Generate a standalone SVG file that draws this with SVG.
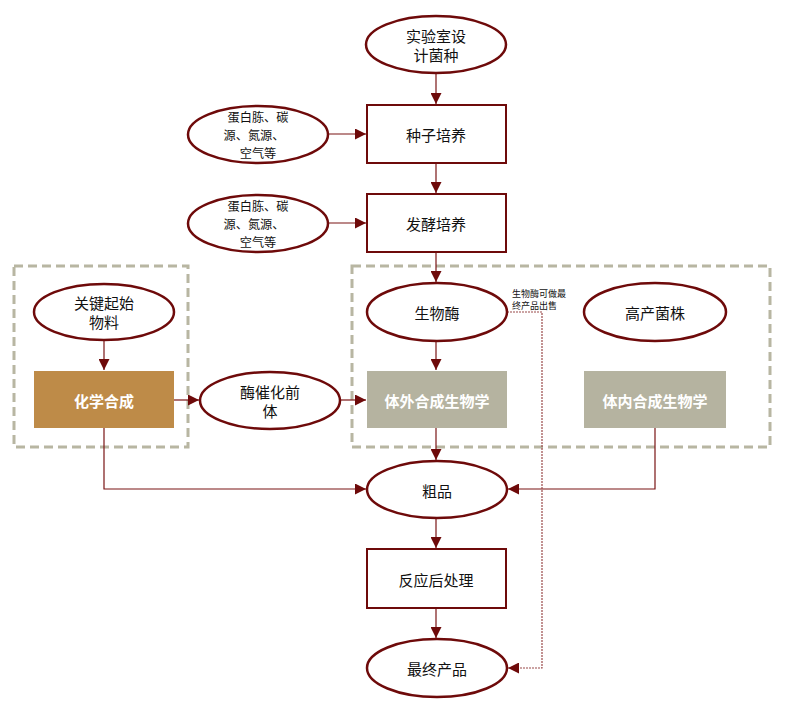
<svg xmlns="http://www.w3.org/2000/svg" width="786" height="714" viewBox="0 0 786 714">
<style>
text{font-family:"Noto Sans CJK SC","Noto Sans",sans-serif;fill:#111;text-anchor:middle;dominant-baseline:central}
.t{font-size:15px}
.m{font-size:12.2px}
.w{font-size:15px;font-weight:bold;fill:#fff}
.s{font-size:9px;text-anchor:start}
.e{fill:#fff;stroke:#6E0A0A;stroke-width:2.5}
.b{fill:#fff;stroke:#6E0A0A;stroke-width:2}
.c{fill:none;stroke:#7A1515;stroke-width:1.2}
.d{fill:none;stroke:#B8B6A2;stroke-width:3;stroke-dasharray:9 5}
</style>
<defs>
<marker id="a" viewBox="0 0 10 10" refX="10" refY="5" markerWidth="11" markerHeight="11" markerUnits="userSpaceOnUse" orient="auto"><path d="M0,0L10,5L0,10z" fill="#6E0A0A"/></marker>
</defs>
<g id="groups">
<rect class="d" x="14" y="266" width="174" height="181"/>
<rect class="d" x="352" y="266" width="418" height="181"/>
</g>
<g id="connectors">
<path class="c" d="M436,73V104" marker-end="url(#a)"/>
<path class="c" d="M328,134H366" marker-end="url(#a)"/>
<path class="c" d="M436,163V193" marker-end="url(#a)"/>
<path class="c" d="M328,223H366" marker-end="url(#a)"/>
<path class="c" d="M436,252V282" marker-end="url(#a)"/>
<path class="c" d="M104,340V370" marker-end="url(#a)"/>
<path class="c" d="M436,341V370" marker-end="url(#a)"/>
<path class="c" d="M174,400H199" marker-end="url(#a)"/>
<path class="c" d="M341,400H366" marker-end="url(#a)"/>
<path class="c" d="M436,428V460" marker-end="url(#a)"/>
<path class="c" d="M104,428V489H366" marker-end="url(#a)"/>
<path class="c" d="M655,428V489H508" marker-end="url(#a)"/>
<path class="c" d="M436,518V548" marker-end="url(#a)"/>
<path class="c" d="M436,608V638" marker-end="url(#a)"/>
<path fill="none" stroke="#9A4A4A" stroke-width="1.2" stroke-dasharray="2 1" d="M507,312H542V668H508" marker-end="url(#a)"/>
<text class="s" x="512" y="293">生物酶可做最</text>
<text class="s" x="512" y="305">终产品出售</text>
</g>
<g id="n1"><ellipse class="e" cx="436" cy="44.5" rx="70" ry="28.5"/><text class="t" x="436" y="35">实验室设</text><text class="t" x="436" y="54">计菌种</text></g>
<g id="n2"><rect class="b" x="367" y="105" width="139" height="58"/><text class="t" x="436" y="134">种子培养</text></g>
<g id="n3"><ellipse class="e" cx="258" cy="134.5" rx="70" ry="28.5"/><text class="m" x="258" y="116.5">蛋白胨、碳</text><text class="m" x="254" y="134.5">源、氮源、</text><text class="m" x="258" y="152.5">空气等</text></g>
<g id="n4"><rect class="b" x="367" y="194" width="139" height="58"/><text class="t" x="436" y="223">发酵培养</text></g>
<g id="n5"><ellipse class="e" cx="258" cy="223.5" rx="70" ry="28.5"/><text class="m" x="258" y="205.5">蛋白胨、碳</text><text class="m" x="254" y="223.5">源、氮源、</text><text class="m" x="258" y="241.5">空气等</text></g>
<g id="n6"><ellipse class="e" cx="104" cy="312" rx="70" ry="28"/><text class="t" x="104" y="302">关键起始</text><text class="t" x="104" y="321">物料</text></g>
<g id="n7"><rect x="34" y="371" width="140" height="57" fill="#BE8B48"/><text class="w" x="104" y="400">化学合成</text></g>
<g id="n8"><ellipse class="e" cx="270" cy="400.5" rx="70" ry="28.5"/><text class="t" x="270" y="391">酶催化前</text><text class="t" x="270" y="410">体</text></g>
<g id="n9"><ellipse class="e" cx="437" cy="312" rx="70" ry="29"/><text class="t" x="437" y="312">生物酶</text></g>
<g id="n10"><ellipse class="e" cx="655" cy="312" rx="71" ry="29"/><text class="t" x="655" y="312">高产菌株</text></g>
<g id="n11"><rect x="367" y="371" width="140" height="57" fill="#B5B3A0"/><text class="w" x="437" y="400">体外合成生物学</text></g>
<g id="n12"><rect x="584" y="371" width="142" height="57" fill="#B5B3A0"/><text class="w" x="655" y="400">体内合成生物学</text></g>
<g id="n13"><ellipse class="e" cx="437" cy="489.5" rx="70" ry="28.5"/><text class="t" x="437" y="490">粗品</text></g>
<g id="n14"><rect class="b" x="367" y="549" width="139" height="59"/><text class="t" x="436" y="579">反应后处理</text></g>
<g id="n15"><ellipse class="e" cx="437" cy="668" rx="70" ry="29"/><text class="t" x="437" y="668">最终产品</text></g>
</svg>
